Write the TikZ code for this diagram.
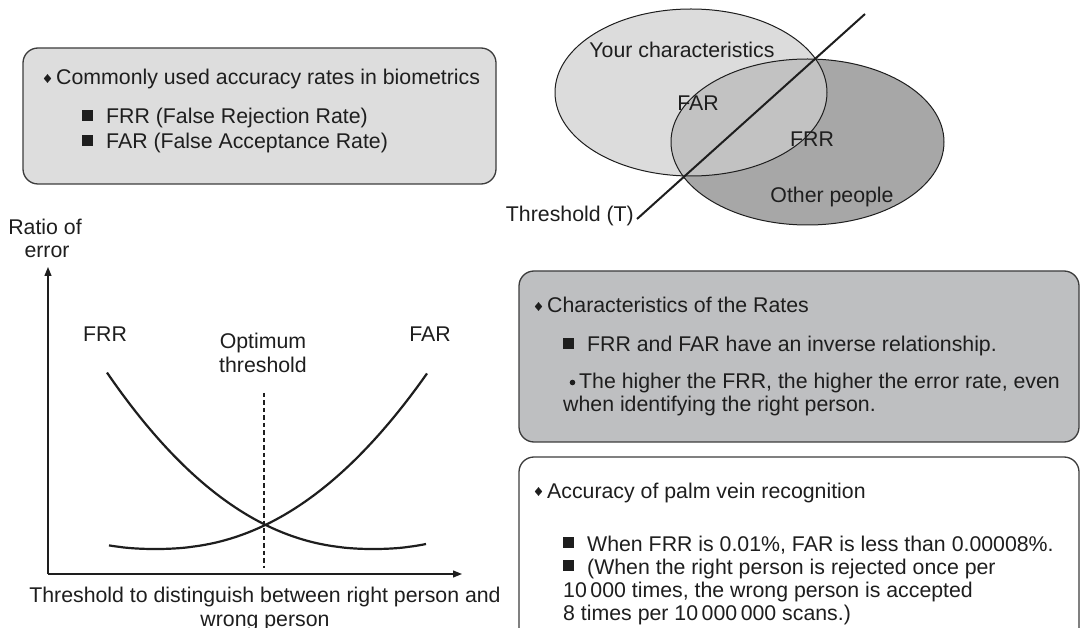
\documentclass[tikz,border=0pt]{standalone}
\usepackage{fontspec}
\setmainfont{Liberation Sans}
\usetikzlibrary{arrows.meta}

\definecolor{ink}{HTML}{1E1E1E}
\definecolor{edge}{HTML}{3C3C3C}
\definecolor{panelpale}{HTML}{DDDDDD}
\definecolor{panelmid}{HTML}{BEBFC1}
\definecolor{setown}{HTML}{DCDCDC}
\definecolor{setboth}{HTML}{C2C2C2}
\definecolor{setother}{HTML}{A7A7A7}

% list markers placed in front of a text line (argument: node name)
\newcommand\diamondbullet[1]{\fill[ink] ([shift={(-8.5pt,6.5pt)}]#1.base west) +(-3.7pt,0pt) -- +(0pt,4.4pt) -- +(3.7pt,0pt) -- +(0pt,-4.4pt) -- cycle;}
\newcommand\squarebullet[1]{\fill[ink] ([shift={(-24pt,3.2pt)}]#1.base west) rectangle +(10.5pt,10.5pt);}
\newcommand\dotbullet[1]{\fill[ink] ([shift={(-6.5pt,6.5pt)}]#1.base west) circle (2.8pt);}

\begin{document}
\begin{tikzpicture}[x=1pt,y=-1pt,
  txt/.style={font=\fontsize{21.3}{25}\selectfont, text=ink, inner sep=0pt},
  row/.style={txt, anchor=base west},
  lbl/.style={txt, anchor=base},
  panel/.style={draw=edge, line width=1.3pt, rounded corners=15pt},
  curve/.style={line width=2.2pt, draw=ink},
  axis/.style={line width=1.2pt, draw=ink, -{Triangle[length=9pt,width=7pt]}},
  outline/.style={draw=ink, line width=1pt}]

\useasboundingbox (0,0) rectangle (1080,628);
\fill[white] (0,0) rectangle (1080,628);

% ---- panel: accuracy rates
\path[panel, fill=panelpale] (23,48) rectangle (496,184);
\node[row] (p1a) at (56,85) {Commonly used accuracy rates in biometrics};
\node[row] (p1b) at (106,124) {FRR (False Rejection Rate)};
\node[row] (p1c) at (106,149) {FAR (False Acceptance Rate)};
\diamondbullet{p1a} \squarebullet{p1b} \squarebullet{p1c}

% ---- two overlapping sets split by the threshold
\fill[setown] (691,92.5) ellipse [x radius=136pt, y radius=83.5pt];
\fill[setother] (807.5,142) ellipse [x radius=136.5pt, y radius=83pt];
\begin{scope}
  \clip (691,92.5) ellipse [x radius=136pt, y radius=83.5pt];
  \fill[setboth] (807.5,142) ellipse [x radius=136.5pt, y radius=83pt];
\end{scope}
\draw[outline] (691,92.5) ellipse [x radius=136pt, y radius=83.5pt];
\draw[outline] (807.5,142) ellipse [x radius=136.5pt, y radius=83pt];
\node[lbl] (own) at (682,58) {Your characteristics};
\node[lbl] (far) at (698,111) {FAR};
\node[lbl] (frr) at (812,147) {FRR};
\node[lbl] (oth) at (832,203) {Other people};
\node[txt, anchor=base east] (thr) at (634,222) {Threshold (T)};
\coordinate (tA) at (637,219);
\coordinate (tB) at (865,14);
\draw[line width=2pt, ink] (tA) -- (tB);

% ---- error-rate chart
\coordinate (O) at (48,574);
\coordinate (Ytip) at (48,267);
\coordinate (Xtip) at (462,574);
\draw[axis] (O) -- (Ytip);
\draw[axis] (O) -- (Xtip);
\node[lbl] (yl1) at (45,235) {Ratio of};
\node[lbl] (yl2) at (47,258) {error};
\node[lbl] (cfrr) at (105,342) {FRR};
\node[lbl] (cfar) at (430,342) {FAR};
\node[lbl] (opt1) at (263,349) {Optimum};
\node[lbl] (opt2) at (263,373) {threshold};
\coordinate (dTop) at (264,393);
\coordinate (dBot) at (264,568);
\draw[ink, line width=1.1pt, dash pattern=on 4.5pt off 3pt] (dTop) -- (dBot);
% falling FRR curve and rising FAR curve
\draw[curve] plot[domain=107:426, samples=90, variable=\t]
  (\t, {549 - 176*pow((abs(373.3-\t))/266, 2.2)});
\draw[curve] plot[domain=109:427, samples=90, variable=\t]
  (\t, {549 - 176*pow((abs(\t-155.3))/272, 2.2)});
\node[lbl] (xl1) at (265,602) {Threshold to distinguish between right person and};
\node[lbl] (xl2) at (265,626) {wrong person};

% ---- panel: characteristics of the rates
\path[panel, fill=panelmid] (519,271) rectangle (1079,442);
\node[row] (p2a) at (547,313) {Characteristics of the Rates};
\node[row] (p2b) at (587,352) {FRR and FAR have an inverse relationship.};
\node[row] (p2c) at (579,389) {The higher the FRR, the higher the error rate, even};
\node[row] (p2d) at (563,412) {when identifying the right person.};
\diamondbullet{p2a} \squarebullet{p2b} \dotbullet{p2c}

% ---- panel: palm vein accuracy
\path[panel, fill=white] (519,457) rectangle (1079,645);
\node[row] (p3a) at (547,498) {Accuracy of palm vein recognition};
\node[row] (p3b) at (587,551) {When FRR is 0.01\%, FAR is less than 0.00008\%.};
\node[row] (p3c) at (587,574) {(When the right person is rejected once per};
\node[row] (p3d) at (563,597) {10\,000 times, the wrong person is accepted};
\node[row] (p3e) at (563,620) {8 times per 10\,000\,000 scans.)};
\diamondbullet{p3a} \squarebullet{p3b} \squarebullet{p3c}
\end{tikzpicture}
\end{document}
